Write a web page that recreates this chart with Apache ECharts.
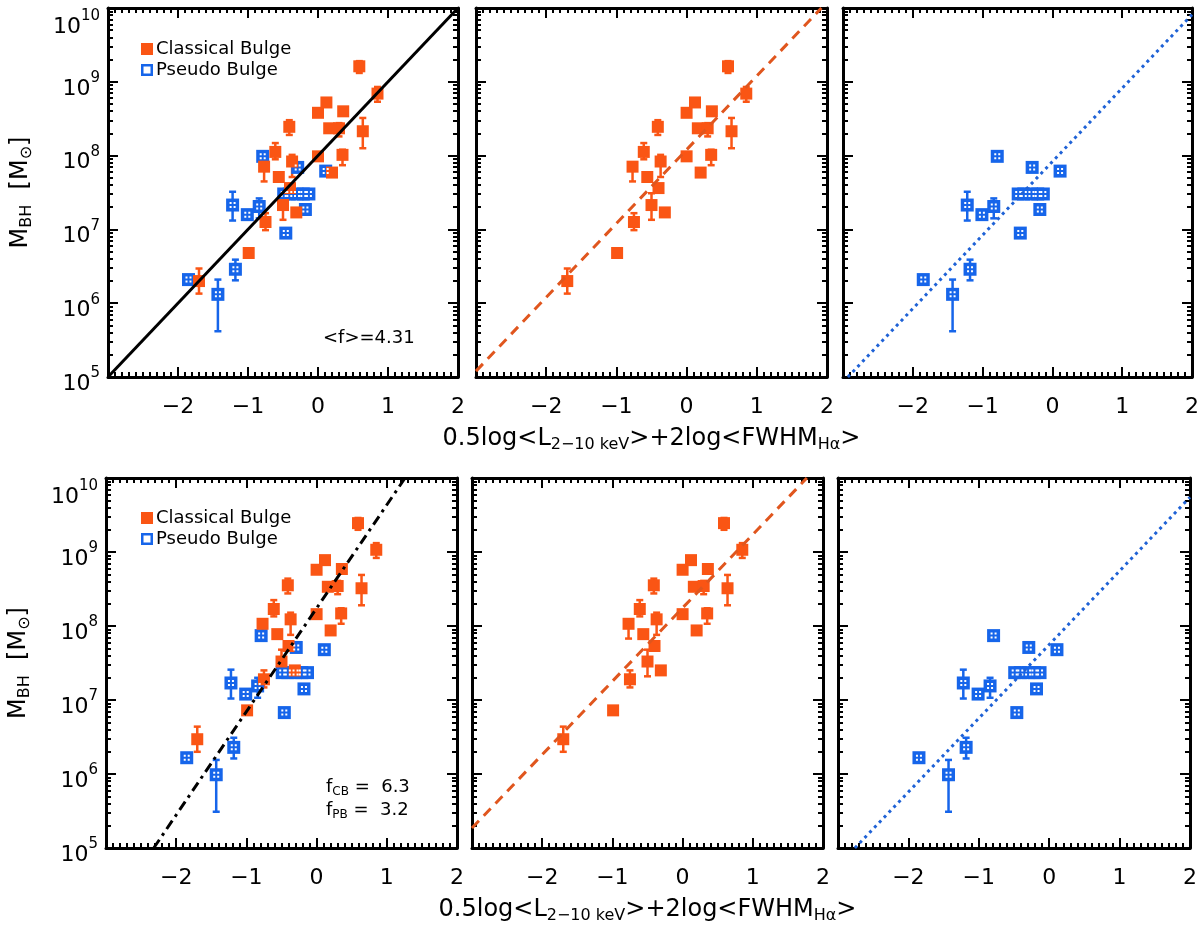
<!DOCTYPE html>
<html>
<head>
<meta charset="utf-8">
<script src="https://cdn.jsdelivr.net/npm/echarts@6/dist/echarts.min.js"></script>
<style>
  html, body { margin: 0; padding: 0; background: #fff; }
  #chart { width: 1200px; height: 926px; }
</style>
</head>
<body>
<div id="chart"></div>
<script>
// ---- data (log10 of M_BH, x = 0.5log<L2-10keV>+2log<FWHM_Ha>) ----
const cbX = [-1.70, -0.99, -0.75, -0.77, -0.56, -0.61, -0.41, -0.37, -0.40, -0.50, -0.31,
             0.00, 0.00, 0.12, 0.20, 0.16, 0.30, 0.36, 0.35, 0.64, 0.59, 0.85];
const cbLogMTop = [6.30, 6.68, 7.10, 7.85, 7.71, 8.05, 8.39, 7.92, 7.56, 7.33, 7.23,
                   7.99, 8.58, 8.72, 7.77, 8.37, 8.37, 8.60, 8.01, 8.33, 9.21, 8.84];
const cbLogMBottom = [6.47, 6.86, 7.28, 8.03, 7.89, 8.23, 8.55, 8.09, 7.73, 7.52, 7.40,
                      8.16, 8.76, 8.89, 7.94, 8.53, 8.54, 8.77, 8.17, 8.51, 9.39, 9.03];
const cbErrLo = [0.17, 0.04, 0.11, 0.20, 0.03, 0.10, 0.11, 0.21, 0.03, 0.20, 0.03,
                 0.03, 0.03, 0.03, 0.05, 0.05, 0.11, 0.03, 0.14, 0.23, 0.09, 0.11];
const cbErrHi = [0.17, 0.04, 0.12, 0.06, 0.03, 0.12, 0.09, 0.09, 0.03, 0.16, 0.03,
                 0.03, 0.03, 0.03, 0.03, 0.05, 0.07, 0.03, 0.07, 0.18, 0.07, 0.09];

const pbX = [-1.85, -1.43, -1.18, -1.22, -1.01, -0.84, -0.79, -0.46, -0.49, -0.41,
             -0.30, -0.21, -0.13, -0.29, -0.18, 0.11];
const pbLogMTop = [6.32, 6.12, 6.46, 7.33, 7.20, 7.31, 7.99, 6.95, 7.48, 7.48,
                   7.48, 7.48, 7.48, 7.84, 7.27, 7.79];
const pbLogMBottom = [6.22, 5.99, 6.36, 7.23, 7.08, 7.19, 7.87, 6.83, 7.37, 7.37,
                      7.37, 7.37, 7.37, 7.71, 7.15, 7.68];
const pbErrLo = [0.05, 0.50, 0.15, 0.21, 0.03, 0.16, 0.03, 0.03, 0.04, 0.04,
                 0.06, 0.04, 0.04, 0.04, 0.05, 0.03];
const pbErrHi = [0.05, 0.20, 0.13, 0.18, 0.03, 0.11, 0.03, 0.03, 0.04, 0.04,
                 0.06, 0.04, 0.04, 0.04, 0.04, 0.03];

// fit lines, endpoints [x, logM]
const fitAllTop = [[-3, 5.0], [2, 10.0]];
const fitCbTop = [[-3, 5.08], [1.92, 10.0]];
const fitPbTop = [[-2.93, 5.0], [2, 9.91]];
const fitAllBottom = [[-2.32, 5.0], [1.26, 10.0]];
const fitCbBottom = [[-3, 5.27], [1.77, 10.0]];
const fitPbBottom = [[-2.76, 5.0], [2, 9.74]];

const xTicks = [-3, -2, -1, 0, 1, 2];
const yTicks = [5, 6, 7, 8, 9, 10];

// ---- styling ----
const FONT = '"DejaVu Sans", Verdana, sans-serif';
const ORANGE = '#fa5514';
const BLUE = '#1665ea';
const minorY = [];
for (let n = 5; n < 10; n++) for (let k = 2; k <= 9; k++) minorY.push(n + Math.log10(k));

const grids = [
  { left: 108, top: 8, width: 350, height: 369 },
  { left: 476, top: 8, width: 351, height: 369 },
  { left: 843, top: 8, width: 349, height: 369 },
  { left: 106, top: 478, width: 351, height: 370 },
  { left: 472, top: 478, width: 351, height: 370 },
  { left: 838, top: 478, width: 352, height: 370 }
].map(g => Object.assign({ outerBoundsMode: 'none', containLabel: false }, g));

const axisLine = { onZero: false, lineStyle: { color: '#000', width: 3 } };
const tickStyle = { color: '#000', width: 2 };
const xTitle = '{m|0.5log<L}{s|2\u221210 keV}{m|>+2log<FWHM}{s|H\u03b1}{m|>}';
const yTitle = '{m|M}{s|BH}{m|  [M}{s|\u2299}{m|]}';
const subRich = {
  m: { fontFamily: FONT, fontSize: 24, color: '#000', lineHeight: 26, verticalAlign: 'top' },
  s: { fontFamily: FONT, fontSize: 16, color: '#000', lineHeight: 17, verticalAlign: 'bottom', padding: [15, 0, 0, 0] }
};

// y tick labels: 10 with superscript exponent; end labels nudged inward like the original
const yLabelRich = {
  b: { fontFamily: FONT, fontSize: 22, lineHeight: 22, padding: [7, 0, 0, 0], verticalAlign: 'top', color: '#000' },
  s: { fontFamily: FONT, fontSize: 15, lineHeight: 15, verticalAlign: 'top', color: '#000' },
  bt: { fontFamily: FONT, fontSize: 22, lineHeight: 22, padding: [19, 0, 0, 0], verticalAlign: 'top', color: '#000' },
  st: { fontFamily: FONT, fontSize: 15, lineHeight: 15, padding: [12, 0, 0, 0], verticalAlign: 'top', color: '#000' },
  bb: { fontFamily: FONT, fontSize: 22, lineHeight: 22, padding: [7, 0, 29, 0], verticalAlign: 'top', color: '#000' },
  sb: { fontFamily: FONT, fontSize: 15, lineHeight: 15, verticalAlign: 'top', color: '#000' }
};
function yLabel(v) {
  const k = v === yTicks[yTicks.length - 1] ? 't' : (v === yTicks[0] ? 'b' : '');
  return '{b' + k + '|10}{s' + k + '|' + v + '}';
}

const xAxes = [], yAxes = [], series = [];

grids.forEach((g, i) => {
  const midCol = i % 3 === 1;
  const firstCol = i % 3 === 0;
  const xBase = {
    gridIndex: i, type: 'value', min: xTicks[0], max: xTicks[xTicks.length - 1], interval: 1,
    axisLine: axisLine,
    axisTick: { inside: true, length: 10, lineStyle: tickStyle },
    minorTick: { show: true, splitNumber: 10, length: 5, lineStyle: tickStyle },
    splitLine: { show: false }
  };
  xAxes.push(Object.assign({}, xBase, {
    position: 'bottom',
    axisLabel: {
      margin: 19, fontSize: 22, color: '#000', fontFamily: FONT,
      formatter: v => v === -3 ? '' : (v < 0 ? '\u2212' + Math.abs(v) : String(v))
    },
    name: midCol ? xTitle : '',
    nameLocation: 'middle', nameGap: 50,
    nameTextStyle: { rich: subRich }
  }));
  xAxes.push(Object.assign({}, xBase, { position: 'top', axisLabel: { show: false } }));

  const yBase = {
    gridIndex: i, type: 'value', min: yTicks[0], max: yTicks[yTicks.length - 1], interval: 1,
    axisLine: axisLine,
    axisTick: { inside: true, length: 10, lineStyle: tickStyle },
    splitLine: { show: false }
  };
  yAxes.push(Object.assign({}, yBase, {
    position: 'left',
    axisLabel: { show: firstCol, margin: 8, color: '#000', formatter: yLabel, rich: yLabelRich },
    name: firstCol ? yTitle : '',
    nameLocation: 'middle', nameGap: 73, nameRotate: 90,
    nameTextStyle: { rich: subRich }
  }));
  yAxes.push(Object.assign({}, yBase, { position: 'right', axisLabel: { show: false } }));
  const yMinor = {
    gridIndex: i, type: 'value', min: yTicks[0], max: yTicks[yTicks.length - 1],
    axisLine: { show: false, onZero: false }, axisLabel: { show: false }, splitLine: { show: false },
    axisTick: { inside: true, length: 5, lineStyle: tickStyle, customValues: minorY }
  };
  yAxes.push(Object.assign({}, yMinor, { position: 'left' }));
  yAxes.push(Object.assign({}, yMinor, { position: 'right' }));
});

function errRender(color) {
  return function (params, api) {
    const x = api.value(0), lo = api.value(1), hi = api.value(2);
    const a = api.coord([x, hi]), b = api.coord([x, lo]);
    const st = { stroke: color, lineWidth: 2.5 };
    return {
      type: 'group', children: [
        { type: 'line', shape: { x1: a[0], y1: a[1], x2: b[0], y2: b[1] }, style: st },
        { type: 'line', shape: { x1: a[0] - 3.5, y1: a[1], x2: a[0] + 3.5, y2: a[1] }, style: st },
        { type: 'line', shape: { x1: b[0] - 3.5, y1: b[1], x2: b[0] + 3.5, y2: b[1] }, style: st }
      ]
    };
  };
}

const dotPath = 'path://M0,0h2v2h-2z M4,0h2v2h-2z M0,4h2v2h-2z M4,4h2v2h-2z';

function addGroup(gi, name, xs, ys, lo, hi, color, isPb) {
  const pts = xs.map((x, k) => [x, ys[k]]);
  const errs = xs.map((x, k) => [x, ys[k] - lo[k], ys[k] + hi[k]]);
  const axes = { xAxisIndex: 2 * gi, yAxisIndex: 4 * gi };
  series.push(Object.assign({
    type: 'custom', name: name, renderItem: errRender(color), data: errs,
    encode: { x: 0, y: [1, 2] }, z: 2, silent: true
  }, axes));
  series.push(Object.assign({
    type: 'scatter', name: name, data: pts, symbol: 'rect', symbolSize: isPb ? 13 : 12,
    itemStyle: { color: color, opacity: 1 }, z: 3, silent: true
  }, axes));
  if (isPb) {
    series.push(Object.assign({
      type: 'scatter', name: name, data: pts, symbol: dotPath, symbolSize: 6,
      itemStyle: { color: '#fff', opacity: 1 }, z: 4, silent: true
    }, axes));
  }
}

function addFit(gi, pts, color, type) {
  series.push({
    type: 'line', data: pts, xAxisIndex: 2 * gi, yAxisIndex: 4 * gi,
    showSymbol: false, symbol: 'none', z: 5, silent: true,
    lineStyle: { color: color, width: 3, type: type }
  });
}

// top row (<f> = 4.31)
addGroup(0, 'Pseudo Bulge', pbX, pbLogMTop, pbErrLo, pbErrHi, BLUE, true);
addGroup(0, 'Classical Bulge', cbX, cbLogMTop, cbErrLo, cbErrHi, ORANGE, false);
addFit(0, fitAllTop, '#000', 'solid');
addGroup(1, 'Classical Bulge', cbX, cbLogMTop, cbErrLo, cbErrHi, ORANGE, false);
addFit(1, fitCbTop, '#e0561e', [10, 7]);
addGroup(2, 'Pseudo Bulge', pbX, pbLogMTop, pbErrLo, pbErrHi, BLUE, true);
addFit(2, fitPbTop, '#1f62d6', [3, 4]);
// bottom row (f_CB = 6.3, f_PB = 3.2)
addGroup(3, 'Pseudo Bulge', pbX, pbLogMBottom, pbErrLo, pbErrHi, BLUE, true);
addGroup(3, 'Classical Bulge', cbX, cbLogMBottom, cbErrLo, cbErrHi, ORANGE, false);
addFit(3, fitAllBottom, '#000', [10, 5, 3, 5]);
addGroup(4, 'Classical Bulge', cbX, cbLogMBottom, cbErrLo, cbErrHi, ORANGE, false);
addFit(4, fitCbBottom, '#e0561e', [10, 7]);
addGroup(5, 'Pseudo Bulge', pbX, pbLogMBottom, pbErrLo, pbErrHi, BLUE, true);
addFit(5, fitPbBottom, '#1f62d6', [3, 4]);

const legendItems = [
  { name: 'Classical Bulge', icon: 'rect', itemStyle: { color: ORANGE } },
  { name: 'Pseudo Bulge', icon: 'path://M0,0H12V12H0Z M2.5,2.5V9.5H9.5V2.5Z', itemStyle: { color: BLUE } }
];
const legendBase = {
  orient: 'vertical', itemWidth: 12, itemHeight: 12, itemGap: 3, selectedMode: false,
  data: legendItems,
  textStyle: { fontFamily: FONT, fontSize: 18, color: '#000', padding: [0, 0, 0, -2] }
};

const annRich = {
  m: { fontFamily: FONT, fontSize: 18, fill: '#000', lineHeight: 20, verticalAlign: 'top' },
  s: { fontFamily: FONT, fontSize: 12, fill: '#000', lineHeight: 12, verticalAlign: 'bottom', padding: [12, 0, 0, 0] }
};

const option = {
  animation: false,
  backgroundColor: '#fff',
  grid: grids,
  xAxis: xAxes,
  yAxis: yAxes,
  legend: [
    Object.assign({ left: 136, top: 35 }, legendBase),
    Object.assign({ left: 136, top: 504 }, legendBase)
  ],
  graphic: [
    { type: 'text', left: 323, top: 329, style: { text: '<f>=4.31', font: '18px ' + FONT, fill: '#000' } },
    { type: 'text', left: 326, top: 774, style: { text: '{m|f}{s|CB}{m| =  6.3}', rich: annRich } },
    { type: 'text', left: 326, top: 797, style: { text: '{m|f}{s|PB}{m| =  3.2}', rich: annRich } }
  ],
  series: series
};

const chart = echarts.init(document.getElementById('chart'));
chart.setOption(option);
</script>
</body>
</html>
